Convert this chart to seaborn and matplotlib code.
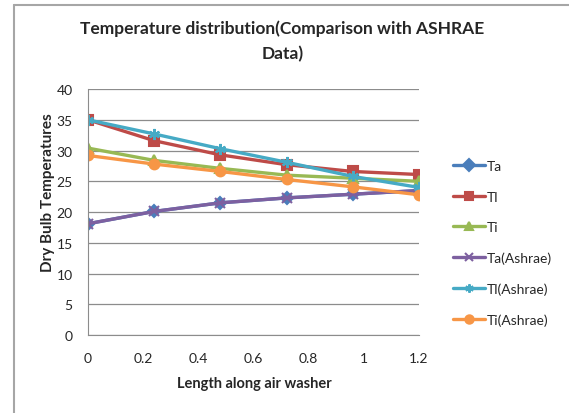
import numpy as np
import pandas as pd
import seaborn as sns
import matplotlib.pyplot as plt
from matplotlib.lines import Line2D

# lengths along the air washer
length = [0, 0.24, 0.48, 0.72, 0.96, 1.2]

# dry bulb temperatures
ta = [18.1, 20.1, 21.5, 22.3, 22.9, 23.5]
tl = [35.0, 31.6, 29.3, 27.7, 26.6, 26.1]
ti = [30.4, 28.4, 27.1, 26.0, 25.5, 25.0]
ta_ashrae = [18.1, 20.1, 21.5, 22.3, 22.9, 23.5]
tl_ashrae = [35.0, 32.7, 30.3, 28.1, 25.8, 24.0]
ti_ashrae = [29.2, 27.8, 26.6, 25.3, 24.1, 22.8]

names = ['Ta', 'Tl', 'Ti', 'Ta(Ashrae)', 'Tl(Ashrae)', 'Ti(Ashrae)']
series = [ta, tl, ti, ta_ashrae, tl_ashrae, ti_ashrae]
colors = ['#4A7EBB', '#BE4B48', '#98B954', '#7D60A0', '#46AAC5', '#F79646']
markers = ['D', 's', '^', 'x', (6, 2, 0), 'o']
msizes = [6, 7, 7, 7, 8, 7]

sns.set_style('white')
plt.rcParams['font.family'] = ['Lato', 'DejaVu Sans']

fig = plt.figure(figsize=(5.69, 4.14), dpi=100)
ax = fig.add_axes([0.1547, 0.1884, 0.5817, 0.594])

for n, s, c, m, ms in zip(names, series, colors, markers, msizes):
    d = pd.DataFrame({'Length': length, 'Temp': s})
    sns.lineplot(data=d, x='Length', y='Temp', color=c, marker=m,
                 linewidth=2.4, markersize=ms, markeredgewidth=1.5,
                 markeredgecolor=c, ax=ax, label=n, legend=False)

ax.set_xlim(0, 1.2)
ax.set_ylim(0, 40)
ax.set_xticks(np.arange(0, 1.21, 0.2))
ax.set_xticklabels(['0', '0.2', '0.4', '0.6', '0.8', '1', '1.2'])
ax.set_yticks(range(0, 41, 5))
ax.yaxis.grid(True, color='#8c8c8c', linewidth=0.9)
ax.xaxis.grid(False)
for side in ['top', 'right']:
    ax.spines[side].set_visible(False)
for side in ['left', 'bottom']:
    ax.spines[side].set_color('#8c8c8c')
ax.tick_params(axis='x', labelsize=10, length=0, pad=12)
ax.tick_params(axis='y', labelsize=10, length=0, pad=11)
ax.set_xlabel('Length along air washer', fontsize=10.5, fontweight='bold')
ax.set_ylabel('Dry Bulb Temperatures', fontsize=11, fontweight='bold')
ax.xaxis.set_label_coords(0.503, -0.165)
ax.yaxis.set_label_coords(-0.10, 0.585)

fig.text(0.496, 0.9, 'Temperature distribution(Comparison with ASHRAE\nData)',
         ha='center', va='center', fontsize=12.5, fontweight='bold', linespacing=1.65)

handles = [Line2D([], [], color=c, marker=m, lw=2.4, markersize=6,
                  markeredgecolor=c, markeredgewidth=1.5)
           for c, m in zip(colors, markers)]
fig.legend(handles, names, loc='center left', bbox_to_anchor=(0.7956, 0.4106),
           frameon=False, fontsize=10, labelspacing=1.32, handlelength=2.3,
           handletextpad=0.15, borderpad=0, borderaxespad=0)

# chart border (left and top edges only)
fig.add_artist(Line2D([0.0246, 0.0246], [0, 0.9855], transform=fig.transFigure,
                      color='#a6a6a6', linewidth=1.5))
fig.add_artist(Line2D([0.0246, 1], [0.9855, 0.9855], transform=fig.transFigure,
                      color='#a6a6a6', linewidth=1.5))

fig.savefig('out.png', dpi=100)
